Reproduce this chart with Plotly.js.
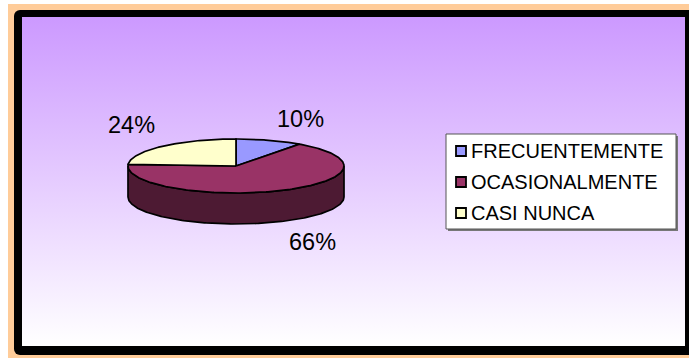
<!DOCTYPE html>
<html>
<head>
<meta charset="utf-8">
<script src="https://cdn.plot.ly/plotly-3.0.1.min.js"></script>
<style>
  html, body { margin:0; padding:0; }
  body { width:689px; height:358px; overflow:hidden; position:relative; background:#ffffff; }
  #peach { position:absolute; left:8px; top:4px; width:700px; height:360px; background:#FFCC99; }
  #frame { position:absolute; left:14px; top:10px; width:690px; height:345px; background:#000000; border-radius:6px; }
  #grad { position:absolute; left:22px; top:17px; width:663px; height:329px; background:linear-gradient(to bottom, #CC99FF 0%, #FFFFFF 100%); }
  #chart { position:absolute; left:0; top:0; width:689px; height:358px; }
</style>
</head>
<body>
<div id="peach"></div>
<div id="frame"></div>
<div id="grad"></div>
<div id="chart"></div>
<script>
// ---- data ----
const categories = ['FRECUENTEMENTE', 'OCASIONALMENTE', 'CASI NUNCA'];
const values = [10, 66, 24];
const topColors = ['#9999FF', '#993366', '#FFFFCC'];
const sideColors = ['#4D4D80', '#4D1A33', '#808066'];

// ---- layout geometry (pixel units on hidden axes) ----
const W = 689, H = 358;
const cx = 236, cy = 166, rx = 108, ry = 27, depth = 31;
const FONT = 'Liberation Sans, Arial, sans-serif';

const rad = d => d * Math.PI / 180;
const px = t => cx + rx * Math.sin(rad(t));
const py = t => cy - ry * Math.cos(rad(t));

function arc(a, b, dy) {
  const xs = [], ys = [];
  const n = Math.max(2, Math.ceil(Math.abs(b - a) / 1));
  for (let i = 0; i <= n; i++) {
    const t = a + (b - a) * i / n;
    xs.push(px(t)); ys.push(py(t) + dy);
  }
  return [xs, ys];
}

const total = values.reduce((s, v) => s + v, 0);
const traces = [];
const tops = [];
const annotations = [];
let acc = 0;
values.forEach((v, i) => {
  const a0 = acc / total * 360;
  const a1 = (acc + v) / total * 360;
  acc += v;
  // visible side (front half: 90..270 deg clockwise from top)
  const lo = Math.max(a0, 90), hi = Math.min(a1, 270);
  if (lo < hi) {
    const [tx, ty] = arc(lo, hi, 0);
    const [bx, by] = arc(hi, lo, depth);
    traces.push({
      type: 'scatter', mode: 'lines', fill: 'toself',
      x: tx.concat(bx, [tx[0]]), y: ty.concat(by, [ty[0]]),
      fillcolor: sideColors[i], line: { color: '#000000', width: 1.7 },
      hoverinfo: 'skip', showlegend: false
    });
  }
  // top face
  const [ax, ay] = arc(a0, a1, 0);
  tops.push({
    type: 'scatter', mode: 'lines', fill: 'toself',
    x: [cx].concat(ax, [cx]), y: [cy].concat(ay, [cy]),
    fillcolor: topColors[i], line: { color: '#000000', width: 1.7 },
    hoverinfo: 'skip', showlegend: false
  });
  // percentage label
  const m = (a0 + a1) / 2;
  const s = Math.sin(rad(m)), c = Math.cos(rad(m));
  const ex = px(m), ey = py(m) + (c < 0 ? depth : 0);
  annotations.push({
    xref: 'x', yref: 'y', showarrow: false,
    x: ex + (s >= 0 ? 5.5 : -5.5), y: ey + (c >= 0 ? -21 : 21),
    xanchor: s >= 0 ? 'left' : 'right', yanchor: 'middle',
    text: Math.round(v / total * 100) + '%',
    font: { family: FONT, size: 23.5, color: '#000000' }
  });
});

// ---- manual legend ----
const lgX0 = 446, lgX1 = 676, lgY0 = 134, lgY1 = 229;
const rowY = categories.map((_, i) => 151 + i * 31);
traces.push(...tops);
traces.push({
  type: 'scatter', mode: 'markers',
  x: categories.map(() => 461), y: rowY,
  marker: { symbol: 'square', size: 10, color: topColors, line: { color: '#000000', width: 1.8 } },
  hoverinfo: 'skip', showlegend: false
});
categories.forEach((name, i) => {
  annotations.push({
    xref: 'x', yref: 'y', showarrow: false,
    x: 469, y: rowY[i], xanchor: 'left', yanchor: 'middle',
    text: name, font: { family: FONT, size: 20, color: '#000000' }
  });
});

const layout = {
  width: W, height: H,
  margin: { l: 0, r: 0, t: 0, b: 0 },
  paper_bgcolor: 'rgba(0,0,0,0)', plot_bgcolor: 'rgba(0,0,0,0)',
  xaxis: { range: [0, W], visible: false, fixedrange: true },
  yaxis: { range: [H, 0], visible: false, fixedrange: true },
  showlegend: false,
  shapes: [
    { type: 'rect', xref: 'x', yref: 'y', x0: lgX0 + 2, x1: lgX1 + 2, y0: lgY0 + 2, y1: lgY1 + 2,
      fillcolor: '#777777', line: { width: 0 }, layer: 'below' },
    { type: 'rect', xref: 'x', yref: 'y', x0: lgX0, x1: lgX1, y0: lgY0, y1: lgY1,
      fillcolor: '#FFFFFF', line: { color: '#555555', width: 1 }, layer: 'below' }
  ],
  annotations: annotations
};

Plotly.newPlot('chart', traces, layout, { staticPlot: true, displayModeBar: false });
</script>
</body>
</html>
